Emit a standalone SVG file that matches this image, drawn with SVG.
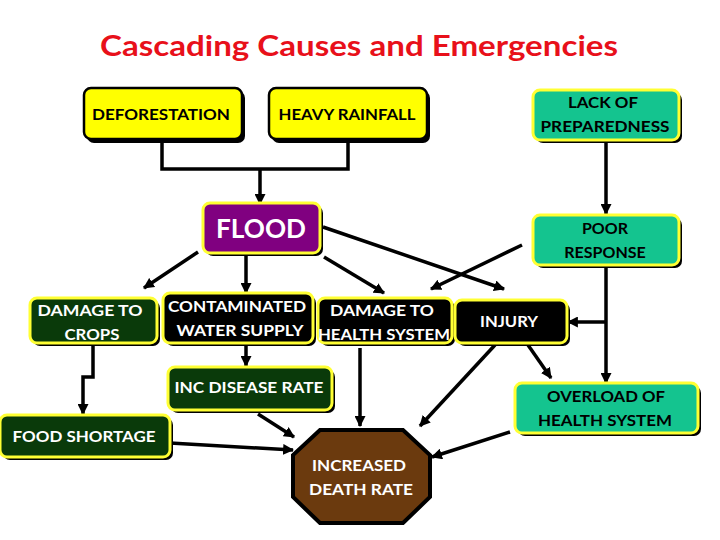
<svg xmlns="http://www.w3.org/2000/svg" width="720" height="540" viewBox="0 0 720 540">
<defs>
<marker id="ah" viewBox="0 0 10 10" refX="9" refY="5" markerWidth="11" markerHeight="11" markerUnits="userSpaceOnUse" orient="auto">
<path d="M0,0 L10,5 L0,10 Z" fill="#000"/>
</marker>
<style>
text{font-family:Lato,"Liberation Sans",sans-serif;font-weight:bold;text-anchor:middle}
.t{fill:#000;font-size:16px}
.w{fill:#fff;font-size:16px}
.sh{fill:#000}
.yel{fill:#ffff00;stroke:#000;stroke-width:2.5}
.teal{fill:#14c48f;stroke:#ffff33;stroke-width:3}
.dk{fill:#0a3a0a;stroke:#ffff33;stroke-width:3}
.blk{fill:#000;stroke:#ffff33;stroke-width:3}
.pur{fill:#800080;stroke:#ffff33;stroke-width:3}
.c{fill:none;stroke:#000;stroke-width:3.5}
.ca{fill:none;stroke:#000;stroke-width:3.5;marker-end:url(#ah)}
</style>
</defs>
<rect width="720" height="540" fill="#fff"/>
<text x="359" y="56" font-size="28" fill="#e8101a" textLength="518" lengthAdjust="spacingAndGlyphs">Cascading Causes and Emergencies</text>

<g id="connectors">
<path class="c" d="M162,140 V169 H348 V140"/>
<path class="ca" d="M260,169 V204"/>
<path class="ca" d="M606,141 V214"/>
<path class="ca" d="M198,252 L144,288"/>
<path class="ca" d="M246,256 V293"/>
<path class="ca" d="M324,257 L384,293"/>
<path class="ca" d="M323,227 L504,289"/>
<path class="ca" d="M522,245 L431,289"/>
<path class="c" d="M606,266 V322"/>
<path class="ca" d="M606,322 H568"/>
<path class="ca" d="M606,322 V383"/>
<path class="ca" d="M528,345 L551,378"/>
<path class="ca" d="M495,345 L420,426"/>
<path class="ca" d="M510,432 L432,457"/>
<path class="ca" d="M360,348 V426"/>
<path class="ca" d="M246,344 V366"/>
<path class="ca" d="M93,343 V377 H83 V414"/>
<path class="ca" d="M258,414 L294,437"/>
<path class="ca" d="M170,443 L293,450"/>
</g>

<g id="deforestation">
<rect class="sh" x="87" y="91" width="158" height="52" rx="7"/>
<rect class="yel" x="84" y="88" width="158" height="51" rx="7"/>
<text class="t" x="161" y="120" textLength="138" lengthAdjust="spacingAndGlyphs">DEFORESTATION</text>
</g>
<g id="heavy-rainfall">
<rect class="sh" x="272" y="91" width="158" height="52" rx="7"/>
<rect class="yel" x="269" y="88" width="158" height="51" rx="7"/>
<text class="t" x="347" y="120" textLength="137" lengthAdjust="spacingAndGlyphs">HEAVY RAINFALL</text>
</g>
<g id="lack-of-preparedness">
<rect class="sh" x="536" y="93" width="146" height="50" rx="7"/>
<rect class="teal" x="533" y="90" width="146" height="50" rx="7"/>
<text class="t" x="603" y="108" textLength="70" lengthAdjust="spacingAndGlyphs">LACK OF</text>
<text class="t" x="605" y="132" textLength="129" lengthAdjust="spacingAndGlyphs">PREPAREDNESS</text>
</g>
<g id="flood">
<rect class="sh" x="206" y="206" width="117" height="50" rx="7"/>
<rect class="pur" x="203" y="203" width="117" height="50" rx="7"/>
<text x="261" y="238" font-size="26" fill="#fff" textLength="90" lengthAdjust="spacingAndGlyphs">FLOOD</text>
</g>
<g id="poor-response">
<rect class="sh" x="536" y="218" width="146" height="50" rx="7"/>
<rect class="teal" x="533" y="215" width="146" height="50" rx="7"/>
<text class="t" x="605" y="234">POOR</text>
<text class="t" x="605" y="258">RESPONSE</text>
</g>
<g id="damage-to-crops">
<rect class="sh" x="33" y="301" width="127" height="45" rx="7"/>
<rect class="dk" x="30" y="298" width="127" height="45" rx="7"/>
<text class="w" x="90" y="316" textLength="105" lengthAdjust="spacingAndGlyphs">DAMAGE TO</text>
<text class="w" x="92" y="340" textLength="55" lengthAdjust="spacingAndGlyphs">CROPS</text>
</g>
<g id="contaminated-water-supply">
<rect class="sh" x="166" y="296" width="150" height="50" rx="7"/>
<rect class="blk" x="163" y="293" width="150" height="50" rx="7"/>
<text class="w" x="237" y="312" textLength="138" lengthAdjust="spacingAndGlyphs">CONTAMINATED</text>
<text class="w" x="240" y="336" textLength="127" lengthAdjust="spacingAndGlyphs">WATER SUPPLY</text>
</g>
<g id="damage-to-health-system">
<rect class="sh" x="321" y="301" width="134" height="45" rx="7"/>
<rect class="blk" x="318" y="298" width="134" height="45" rx="7"/>
<text class="w" x="382" y="316" textLength="104" lengthAdjust="spacingAndGlyphs">DAMAGE TO</text>
<text class="w" x="384" y="340" textLength="132" lengthAdjust="spacingAndGlyphs">HEALTH SYSTEM</text>
</g>
<g id="injury">
<rect class="sh" x="458" y="303" width="112" height="43" rx="7"/>
<rect class="blk" x="455" y="300" width="112" height="43" rx="7"/>
<text class="w" x="509" y="327" textLength="58" lengthAdjust="spacingAndGlyphs">INJURY</text>
</g>
<g id="inc-disease-rate">
<rect class="sh" x="171" y="370" width="164" height="43" rx="7"/>
<rect class="dk" x="168" y="367" width="164" height="43" rx="7"/>
<text class="w" x="249" y="393" textLength="149" lengthAdjust="spacingAndGlyphs">INC DISEASE RATE</text>
</g>
<g id="overload-of-health-system">
<rect class="sh" x="518" y="386" width="183" height="50" rx="7"/>
<rect class="teal" x="515" y="383" width="183" height="50" rx="7"/>
<text class="t" x="606" y="402" textLength="118" lengthAdjust="spacingAndGlyphs">OVERLOAD OF</text>
<text class="t" x="605" y="426" textLength="134" lengthAdjust="spacingAndGlyphs">HEALTH SYSTEM</text>
</g>
<g id="food-shortage">
<rect class="sh" x="3" y="418" width="170" height="42" rx="7"/>
<rect class="dk" x="0" y="415" width="170" height="42" rx="7"/>
<text class="w" x="84" y="442" textLength="143" lengthAdjust="spacingAndGlyphs">FOOD SHORTAGE</text>
</g>
<g id="increased-death-rate">
<polygon points="320,430 403,430 430,455 430,497 403,523 320,523 293,497 293,455" fill="#6b3a0e" stroke="#000" stroke-width="4"/>
<text class="w" x="359" y="471" textLength="94" lengthAdjust="spacingAndGlyphs">INCREASED</text>
<text class="w" x="361" y="495" textLength="104" lengthAdjust="spacingAndGlyphs">DEATH RATE</text>
</g>
</svg>
